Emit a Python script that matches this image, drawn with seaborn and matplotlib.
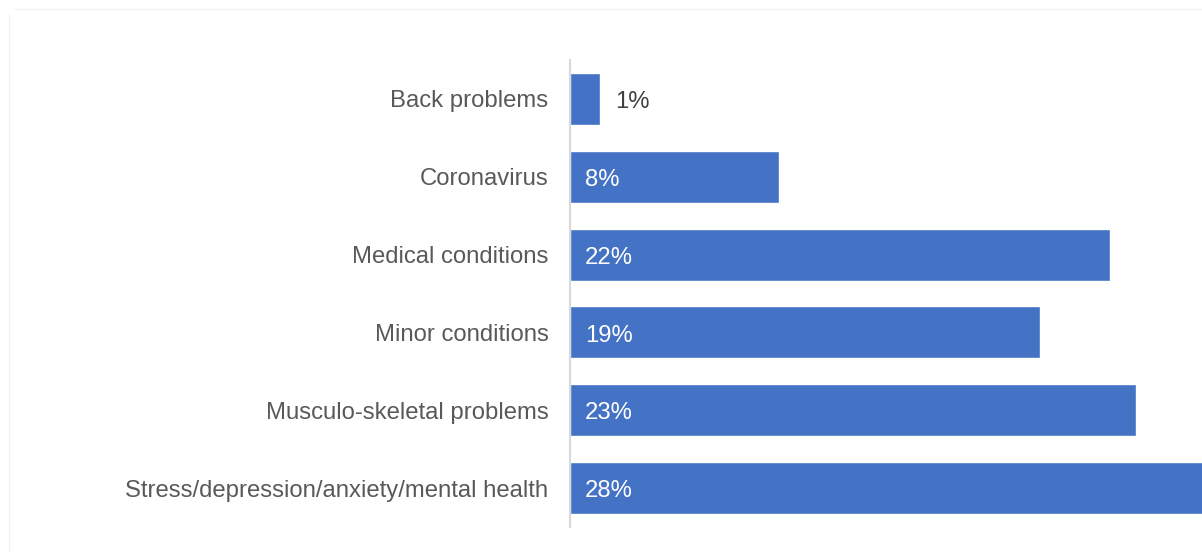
import matplotlib
matplotlib.use("Agg")
import matplotlib.pyplot as plt
import seaborn as sns
import pandas as pd

categories = [
    "Back problems",
    "Coronavirus",
    "Medical conditions",
    "Minor conditions",
    "Musculo-skeletal problems",
    "Stress/depression/anxiety/mental health",
]
values = [1.2, 8.5, 21.95, 19.1, 23.0, 28.0]
labels = ["1%", "8%", "22%", "19%", "23%", "28%"]

sns.set_style("white")
plt.rcParams["font.family"] = ["Liberation Sans", "DejaVu Sans"]

df = pd.DataFrame({"cause": categories, "share": values})

fig = plt.figure(figsize=(12.02, 5.52), dpi=100)
ax = fig.add_axes([570 / 1202, 1 - 527 / 552, 632 / 1202, 467 / 552])

sns.barplot(data=df, x="share", y="cause", color="#4472C4", saturation=1,
            width=0.67, ax=ax)

ax.set_xlim(0, 25.7)
ax.set_ylim(5.5, -0.5)
ax.set_xlabel("")
ax.set_ylabel("")
ax.set_xticks([])
ax.tick_params(axis="y", length=0, pad=15.5, labelsize=17.2, labelcolor="#595959")
for t in ax.get_yticklabels():
    t.set_y(t.get_position()[1])
    t.set_verticalalignment("center_baseline")

for s in ["top", "right", "bottom"]:
    ax.spines[s].set_visible(False)
ax.spines["left"].set_color("#D9D9D9")
ax.spines["left"].set_linewidth(1.5)

for i, (v, lab) in enumerate(zip(values, labels)):
    if v < 3:
        ax.text(v + 0.62, i + 0.04, lab, va="center", ha="left", fontsize=17.2,
                color="#404040")
    else:
        ax.text(0.6, i + 0.04, lab, va="center", ha="left", fontsize=17.2,
                color="white")

# faint outer frame of the original chart area
fig.add_artist(plt.Line2D([15 / 1202, 1], [1 - 9 / 552, 1 - 9 / 552],
                          color="#F2F2F2", lw=1))
fig.add_artist(plt.Line2D([9 / 1202, 9 / 1202], [0, 1 - 14 / 552],
                          color="#F2F2F2", lw=1))

fig.savefig("out.png", dpi=100)
